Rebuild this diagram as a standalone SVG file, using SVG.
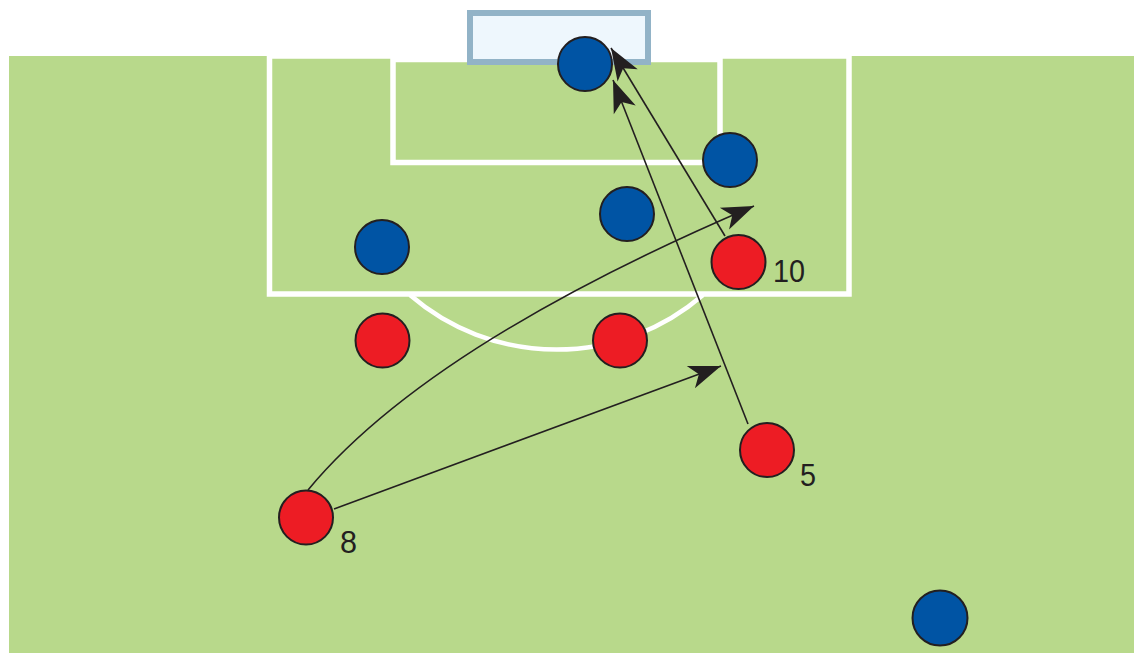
<svg xmlns="http://www.w3.org/2000/svg" width="1134" height="653" viewBox="0 0 1134 653">
  <defs>
    <style>
      .line { fill: none; stroke: #ffffff; stroke-width: 5.5; }
      .arc { fill: none; stroke: #ffffff; stroke-width: 4.5; }
      .blue { fill: #0054a4; stroke: #231f20; stroke-width: 2; }
      .red { fill: #ed1c24; stroke: #231f20; stroke-width: 2; }
      .lbl { font-family: "Liberation Sans Narrow", "Liberation Sans", Arial, sans-serif; font-size: 32px; fill: #231f20; }
      .conn { fill: none; stroke: #231f20; stroke-width: 1.6; }
    </style>
    <marker id="ah" markerUnits="userSpaceOnUse" markerWidth="40" markerHeight="30" viewBox="-32 -14 36 28" refX="0" refY="0" orient="auto">
      <path d="M0,0 L-30,-11 L-22,0 L-30,11 Z" fill="#231f20"/>
    </marker>
  </defs>

  <rect width="1134" height="653" fill="#ffffff"/>

  <g id="field">
    <rect x="9" y="56" width="1125" height="597" fill="#b8d98b"/>
    <rect class="line" x="269.5" y="56" width="579.5" height="238"/>
    <rect class="line" x="393" y="59.5" width="327" height="103"/>
    <path class="arc" d="M410,295 A224,224 0 0 0 703,295"/>
  </g>

  <g id="goal">
    <rect x="470" y="13" width="178" height="49" fill="#eef7fd" stroke="#92b3c7" stroke-width="6"/>
  </g>

  <g id="gk-blue"><circle class="blue" cx="585" cy="64" r="27"/></g>
  <g id="blue-2"><circle class="blue" cx="730" cy="160" r="27"/></g>
  <g id="blue-3"><circle class="blue" cx="627" cy="214" r="27"/></g>
  <g id="blue-4"><circle class="blue" cx="382" cy="247" r="27"/></g>
  <g id="blue-5"><circle class="blue" cx="940" cy="618" r="27.5"/></g>

  <g id="red-10">
    <circle class="red" cx="738.5" cy="262" r="27"/>
    <text class="lbl" x="773" y="282" textLength="32" lengthAdjust="spacingAndGlyphs">10</text>
  </g>
  <g id="red-a"><circle class="red" cx="382.5" cy="340.5" r="27"/></g>
  <g id="red-b"><circle class="red" cx="620" cy="340.5" r="27"/></g>
  <g id="red-5">
    <circle class="red" cx="767" cy="450" r="27"/>
    <text class="lbl" x="800" y="486" textLength="16" lengthAdjust="spacingAndGlyphs">5</text>
  </g>
  <g id="red-8">
    <circle class="red" cx="306" cy="517.5" r="27"/>
    <text class="lbl" x="340" y="553" textLength="17" lengthAdjust="spacingAndGlyphs">8</text>
  </g>

  <g id="connectors">
    <path class="conn" d="M748,424 L613,80" marker-end="url(#ah)"/>
    <path class="conn" d="M725,236 L611,48" marker-end="url(#ah)"/>
    <path class="conn" d="M308,490 Q428,345 754,206" marker-end="url(#ah)"/>
    <path class="conn" d="M334,509 L721,366" marker-end="url(#ah)"/>
  </g>
</svg>
